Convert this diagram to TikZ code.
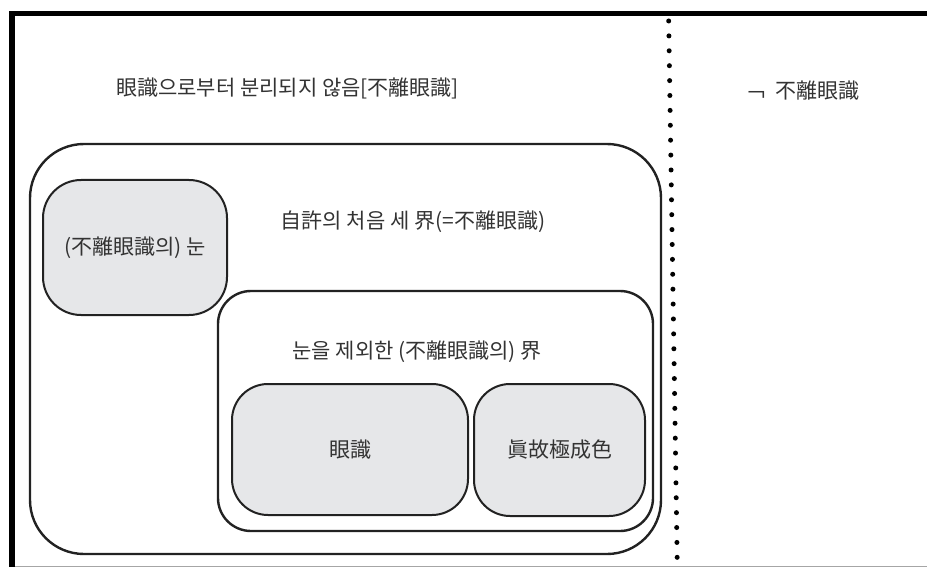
\documentclass[tikz,border=0pt]{standalone}
\usepackage{fontspec}
\setmainfont{Noto Sans CJK KR}
\definecolor{txt}{HTML}{333333}
\definecolor{boxfill}{HTML}{E6E7E9}
\definecolor{edge}{HTML}{222222}
\begin{document}
\begin{tikzpicture}[x=1pt,y=-1pt,
  lbl/.style={text=txt,font=\fontsize{21}{25}\selectfont,inner sep=0pt},
  bigbox/.style={draw=edge,line width=2.4pt,rectangle,inner sep=0pt,outer sep=0pt},
  graybox/.style={draw=edge,line width=2pt,fill=boxfill,rectangle,inner sep=0pt,outer sep=0pt,
     text=txt,font=\fontsize{21}{25}\selectfont},
  dotline/.style={line width=5pt,line cap=round,dash pattern=on 0pt off 14.9pt},
  frame/.style={line width=5.5pt,black}]
\useasboundingbox (0,0) rectangle (927,567);
% outer frame
\coordinate (fbl) at (12,570);
\coordinate (ftl) at (12,13.5);
\coordinate (ftr) at (935,13.5);
\coordinate (bl2) at (15,566);
\coordinate (br2) at (927,566);
\draw[frame] (fbl) -- (ftl) -- (ftr);
\draw[gray!70,line width=1pt] (bl2) -- (br2);
% dotted divider
\coordinate (dtop) at (668.7,21);
\coordinate (dbot) at (677.3,566);
\draw[dotline] (dtop) -- (dbot);
% titles
\node[lbl] (title) at (287.5,88) {眼識으로부터 분리되지 않음[不離眼識]};
\node[lbl,anchor=west] (neg) at (746,92) {\raisebox{-4pt}{￢}\hspace{8pt}不離眼識};
% big box
\node[bigbox,minimum width=631,minimum height=410,rounded corners=54pt] (big) at (345.5,349) {};
\node[lbl] (bigl) at (413,222) {自許의 처음 세 界(=不離眼識)};
% eye box
\node[graybox,minimum width=184,minimum height=135,rounded corners=38pt] (eye) at (135,247.5) {(不離眼識의) 눈};
% inner box
\node[bigbox,minimum width=435,minimum height=240,rounded corners=33pt] (inner) at (435.5,411) {};
\node[lbl] (innerl) at (417,352) {눈을 제외한 (不離眼識의) 界};
% lower boxes
\node[graybox,minimum width=236,minimum height=131,rounded corners=36pt] (cons) at (350,449.5) {眼識};
\node[graybox,minimum width=171,minimum height=132,rounded corners=36pt] (form) at (559.5,450) {眞故極成色};
\end{tikzpicture}
\end{document}
